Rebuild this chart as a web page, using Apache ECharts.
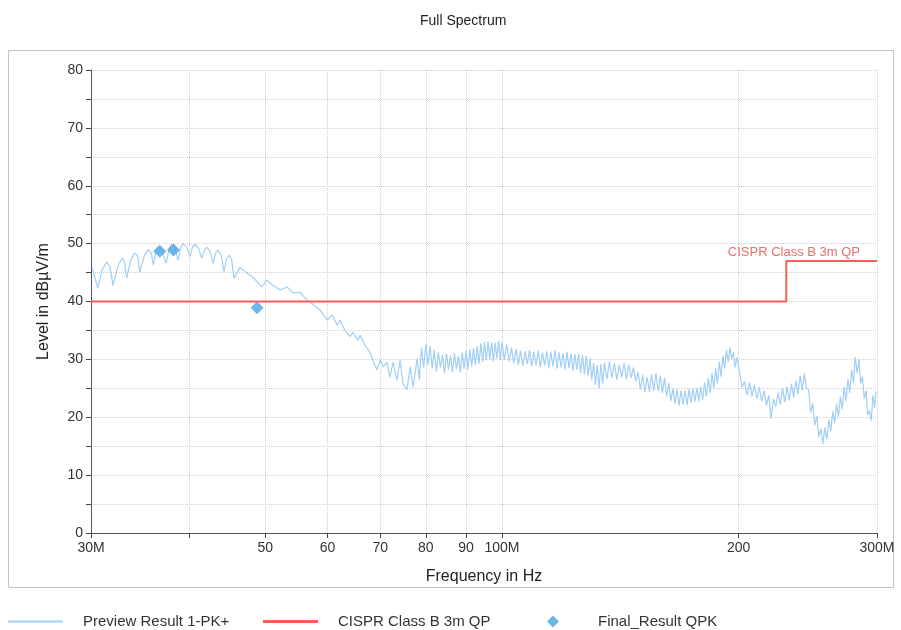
<!DOCTYPE html>
<html><head><meta charset="utf-8">
<script src="https://cdn.jsdelivr.net/npm/echarts@6/dist/echarts.min.js"></script>
<style>html,body{margin:0;padding:0;background:#fff}#c{width:901px;height:630px}</style>
</head><body><div id="c"></div>
<script>
// Frequencies in MHz
const previewFreq = [30.1,30.6,31.0,31.4,31.7,32.0,32.5,32.9,33.1,33.3,33.7,34.1,34.4,34.6,35.1,35.5,35.8,36.0,36.3,36.5,36.9,37.4,37.7,38.0,38.4,38.7,39.0,39.3,39.7,40.1,40.4,40.7,41.1,41.5,41.8,42.1,42.5,42.9,43.2,43.5,43.9,44.3,44.6,45.0,45.3,45.6,46.4,47.4,48.2,49.5,50.2,51.1,52.2,53.3,54.2,55.3,56.5,
57.0,58.7,59.9,60.8,61.7,62.2,63.1,64.1,64.6,65.6,66.0,66.9,67.9,68.5,69.3,70.0,70.6,71.4,72.0,72.7,73.5,74.2,74.8,75.7,76.4,77.1,
78.0,78.5,79.0,79.5,80.0,80.5,81.0,81.5,82.0,82.5,83.0,83.5,84.0,84.5,85.0,85.5,86.0,86.5,87.0,87.5,88.0,88.5,89.0,89.5,90.0,90.5,91.0,91.5,92.0,92.5,93.0,93.5,94.0,94.5,95.0,95.5,96.0,96.5,97.0,97.5,98.0,98.5,99.0,99.5,
100.0,100.7,101.4,102.1,102.8,103.5,104.2,104.9,105.6,106.3,107.0,107.7,108.4,109.1,109.8,110.5,111.2,111.9,112.6,113.3,114.0,114.7,115.4,116.1,116.8,117.5,118.2,118.9,119.6,120.3,121.0,121.7,122.4,123.1,123.8,124.5,125.2,125.9,126.6,127.3,128.0,128.7,129.4,130.1,130.8,131.5,132.2,132.9,133.6,134.3,
135,136,137,138,139,140,141,142,143,144,145,146,147,148,149,150,151,152,153,154,155,156,157,158,159,160,161,162,163,164,165,166,167,168,169,170,171,172,173,174,175,176,177,178,179,180,181,182,183,184,185,186,187,188,189,190,191,192,193,194,195,196,197,198,199,
200.5,202.0,203.5,205.0,206.5,208.0,209.5,211.0,212.5,214.0,215.5,217.0,218.5,220.0,221.5,223.0,224.5,226.0,227.5,229.0,230.5,232.0,233.5,235.0,236.5,238.0,239.5,241.0,242.5,244.0,245.5,247.0,248.5,250.0,251.5,253.0,254.5,256.0,257.5,259.0,260.5,262.0,263.5,265.0,266.5,268.0,269.5,271.0,272.5,274.0,275.5,277.0,278.5,280.0,281.5,283.0,284.5,286.0,287.5,289.0,290.5,292.0,293.5,295.0,296.5,298.0,299.0,300.0];
const previewLevel = [45.9,42.3,45.5,46.8,46.1,42.8,46.3,47.5,46.8,44.0,47.2,48.4,47.8,45.1,48.0,49.0,48.3,46.3,48.7,49.4,48.8,46.6,49.0,49.9,49.2,47.1,49.3,50.0,49.4,47.8,49.5,49.9,49.2,47.5,48.8,49.4,48.7,46.6,48.3,48.9,48.1,45.1,47.3,48.0,47.2,44.0,45.9,44.9,44.2,42.5,43.7,42.8,42.0,42.5,41.5,41.6,40.2,
39.9,38.5,36.8,37.7,35.9,36.8,35.1,33.9,34.7,33.3,34.2,32.5,31.3,29.9,28.2,29.9,28.7,29.5,26.9,29.5,26.4,29.9,25.9,24.7,28.7,25.2,
30.2,26.5,32.0,28.6,32.6,29.0,32.3,28.4,31.6,27.9,31.2,28.6,30.8,27.6,31.0,28.2,30.7,27.8,31.1,28.3,30.6,27.7,31.2,28.4,31.5,28.2,31.8,28.8,32.0,29.0,32.3,29.2,32.8,29.6,33.0,29.8,33.1,30.0,33.0,29.7,32.9,30.1,33.2,29.8,
33.0,29.9,32.6,29.6,32.0,29.3,31.8,29.0,31.5,28.9,31.4,29.2,31.6,28.8,31.3,29.0,31.5,28.6,31.2,28.9,31.4,28.5,31.3,28.8,31.6,28.4,31.2,28.6,31.1,28.3,31.3,28.5,31.0,28.0,30.9,28.2,31.0,27.6,30.8,27.4,30.6,27.2,30.2,26.5,29.4,25.6,29.0,25.0,29.2,25.8,
29.4,26.6,29.6,26.8,29.3,26.5,29.0,26.9,29.3,26.6,29.1,26.8,28.6,26.2,27.8,24.8,27.3,24.3,27.0,24.4,27.4,24.6,27.6,24.5,27.2,24.2,26.8,23.6,25.9,22.8,25.0,22.3,24.8,22.0,24.6,22.2,24.7,22.1,24.9,22.5,25.0,22.7,25.1,22.8,25.3,23.0,26.0,23.6,26.8,24.2,27.6,25.0,28.5,25.8,29.6,27.0,30.6,28.4,31.6,29.6,32.1,30.0,31.2,28.6,30.4,
28.0,25.2,26.2,23.8,26.0,23.6,25.6,23.2,25.2,22.8,24.6,22.0,23.8,19.8,23.2,21.8,24.2,22.2,25.0,22.6,25.3,22.9,25.8,23.4,26.4,24.0,27.2,24.6,27.6,25.0,24.8,20.8,22.4,18.6,20.2,16.6,18.0,15.4,18.2,16.2,19.6,17.6,21.0,19.0,22.3,20.2,23.6,21.4,25.2,22.8,26.6,24.2,28.2,26.0,30.4,27.6,30.0,25.8,27.0,23.2,24.6,20.4,21.2,19.4,23.8,21.6,24.5];
const limitFreq = [30, 230, 230, 300];
const limitLevel = [40, 40, 47, 47];
const finalFreq = [36.7, 38.2, 48.8];
const finalLevel = [48.7, 48.9, 38.9];
const xTickValues = [30, 40, 50, 60, 70, 80, 90, 100, 200, 300];
const xLabelValues = [30, 50, 60, 70, 80, 90, 100, 200, 300];
const xLabelText = {30:'30M', 50:'50', 60:'60', 70:'70', 80:'80', 90:'90', 100:'100M', 200:'200', 300:'300M'};
const limitLabel = 'CISPR Class B 3m QP';

const FONT = '"Liberation Sans", Arial, sans-serif';
const preview = previewFreq.map((f,i)=>[f, previewLevel[i]]);
const limit = limitFreq.map((f,i)=>[f, limitLevel[i]]);
const finals = finalFreq.map((f,i)=>[f, finalLevel[i]]);

const chart = echarts.init(document.getElementById('c'), null, {renderer:'canvas'});
const legendText = {fontSize:15, color:'#333', fontFamily:FONT};
chart.setOption({
  animation:false,
  textStyle:{fontFamily:FONT},
  title:{text:'Full Spectrum', left:415, top:9, textStyle:{fontSize:14, fontWeight:'normal', color:'#222', fontFamily:FONT}},
  graphic:[{type:'rect', shape:{x:8.5, y:50.5, width:885, height:537}, style:{fill:'none', stroke:'#c4c4c4', lineWidth:1}, z:-1, silent:true}],
  legend:[
    {left:8, top:614, padding:0, itemWidth:55, itemHeight:2, data:[{name:'Preview Result 1-PK+', icon:'rect'}], textStyle:Object.assign({padding:[0,0,0,15]}, legendText)},
    {left:263, top:614, padding:0, itemWidth:55, itemHeight:3, data:[{name:'CISPR Class B 3m QP', icon:'rect'}], textStyle:Object.assign({padding:[0,0,0,15]}, legendText)},
    {left:547, top:614, padding:0, itemWidth:12, itemHeight:12, data:[{name:'Final_Result QPK', icon:'diamond'}], textStyle:Object.assign({padding:[0,0,0,34]}, legendText)}
  ],
  grid:{left:91, right:24, top:70, bottom:97},
  xAxis:{
    type:'log', logBase:10, min:30, max:300,
    name:'Frequency in Hz', nameLocation:'middle', nameGap:36,
    nameTextStyle:{fontSize:16, color:'#222', fontFamily:FONT},
    axisLine:{lineStyle:{color:'#555'}},
    axisTick:{customValues:xTickValues, length:5, lineStyle:{color:'#444'}},
    axisLabel:{customValues:xLabelValues, formatter:v=>xLabelText[Math.round(v)]||'', fontSize:14, color:'#333', margin:8, fontFamily:FONT},
    splitLine:{show:true, lineStyle:{color:'#cfcfcf', type:'dotted'}},
    minorTick:{show:false}, minorSplitLine:{show:false}
  },
  yAxis:{
    type:'value', min:0, max:80, interval:10,
    name:'Level in dBµV/m', nameLocation:'middle', nameGap:39,
    nameTextStyle:{fontSize:16, color:'#222', fontFamily:FONT},
    axisLine:{show:true, lineStyle:{color:'#555'}},
    axisTick:{show:true, length:5, lineStyle:{color:'#444'}},
    minorTick:{show:true, splitNumber:2, length:5, lineStyle:{color:'#444'}},
    axisLabel:{fontSize:14, color:'#333', margin:8, fontFamily:FONT},
    splitLine:{show:true, lineStyle:{color:'#cfcfcf', type:'dotted'}},
    minorSplitLine:{show:true, lineStyle:{color:'#cfcfcf', type:'dotted'}}
  },
  series:[
    {name:'Preview Result 1-PK+', type:'line', data:preview, showSymbol:false, symbol:'none',
     lineStyle:{color:'#a3cff7', width:1.2}, itemStyle:{color:'#a3cff7'}, z:2},
    {name:'CISPR Class B 3m QP', type:'line', data:limit, showSymbol:false, symbol:'none',
     lineStyle:{color:'#ff5b52', width:2}, itemStyle:{color:'#ff5b52'}, z:3,
     markPoint:{symbol:'circle', symbolSize:0, silent:true,
       data:[{coord:[300,47], label:{show:true, formatter:limitLabel, position:'left', distance:0, offset:[-17,-9], fontSize:13, color:'#e8706b', fontFamily:FONT}}]}},
    {name:'Final_Result QPK', type:'scatter', data:finals, symbol:'diamond', symbolSize:13,
     itemStyle:{color:'#4aa3e2'}, z:4}
  ]
});
</script></body></html>
